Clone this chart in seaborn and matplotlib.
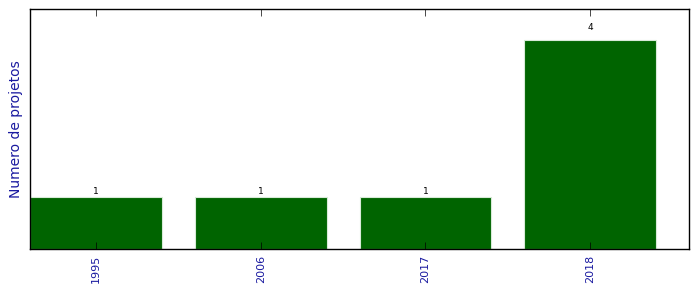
import matplotlib
matplotlib.use("Agg")
import matplotlib.pyplot as plt
import seaborn as sns
import pandas as pd

years = ["1995", "2006", "2017", "2018"]
counts = [1, 1, 1, 4]

plt.style.use("classic")
plt.rcParams["font.family"] = ["DejaVu Sans"]

df = pd.DataFrame({"ano": years, "n": counts})

fig = plt.figure(figsize=(6.99, 2.92), dpi=100)
ax = fig.add_axes([30/699, 43/292, 659/699, 240/292])
sns.barplot(data=df, x="ano", y="n", color="#006400", saturation=1, width=0.8,
            edgecolor="#d8ead8", linewidth=0.8, ax=ax)

for i, v in enumerate(counts):
    ax.text(i, v * 1.05, str(v), ha="center", va="baseline", fontsize=6.5)

ax.set_xlim(-0.4, 3.6)
ax.set_ylim(0, max(counts) * 1.15)
ax.set_yticks([])
ax.set_xlabel("")
ax.set_ylabel("Numero de projetos", color="#1a1aa0", fontsize=10)
ax.tick_params(axis="x", direction="in", top=True, bottom=True, length=5,
               pad=4, labelsize=8, labelcolor="#1a1aa0", rotation=90)
fig.savefig("out.png", dpi=100)
